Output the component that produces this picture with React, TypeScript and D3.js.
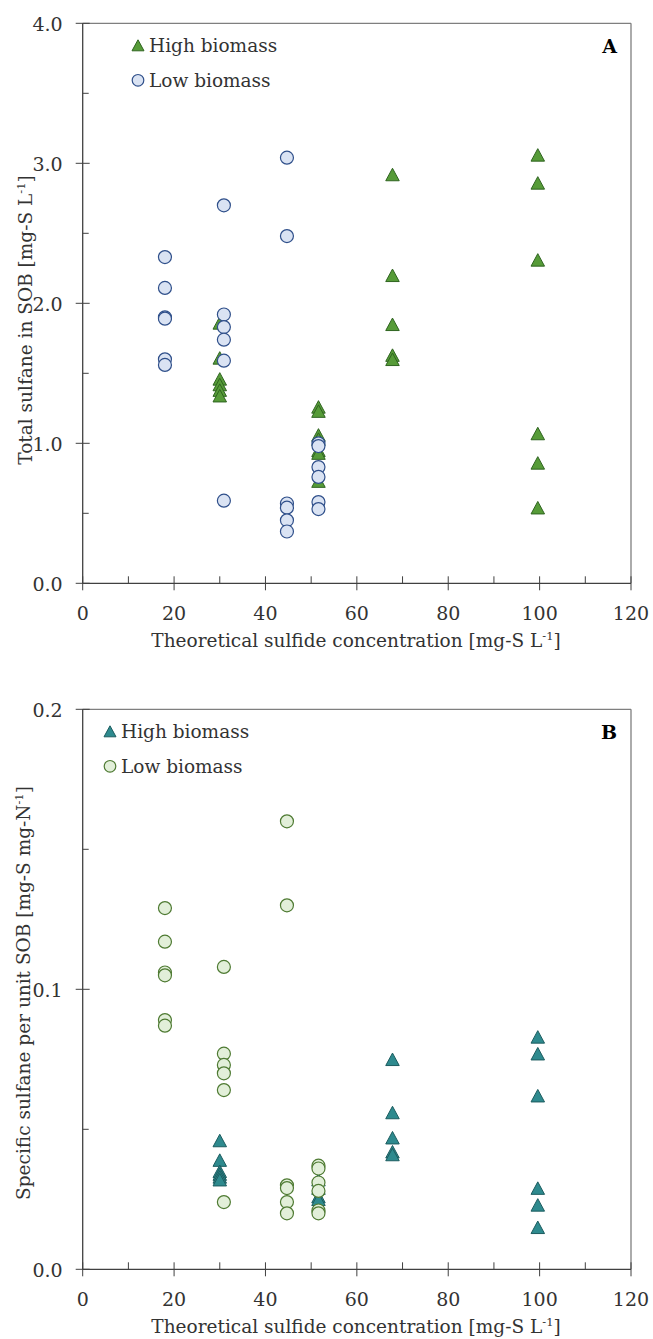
import React from "react";
import * as d3 from "d3";

// ---------- DATA ----------
const xTicks = [0, 20, 40, 60, 80, 100, 120];
const xMinorTicks = [10, 30, 50, 70, 90, 110];

const aYTicks = [0, 1, 2, 3, 4];
const aYMinor = [0.5, 1.5, 2.5, 3.5];
const bYTicks = [0, 0.1, 0.2];
const bYMinor = [0.05, 0.15];

// Panel A – High biomass (triangles)
const aHighX = [30, 30, 30, 30, 30, 30, 51.6, 51.6, 51.6, 51.6, 51.6, 51.6, 51.6, 67.8, 67.8, 67.8, 67.8, 67.8, 99.6, 99.6, 99.6, 99.6, 99.6, 99.6];
const aHighY = [1.86, 1.61, 1.46, 1.42, 1.38, 1.34, 1.26, 1.23, 1.06, 1.03, 0.95, 0.93, 0.73, 2.92, 2.2, 1.85, 1.63, 1.6, 3.06, 2.86, 2.31, 1.07, 0.86, 0.54];
// Panel A – Low biomass (circles)
const aLowX = [18, 18, 18, 18, 18, 18, 30.9, 30.9, 30.9, 30.9, 30.9, 30.9, 44.7, 44.7, 44.7, 44.7, 44.7, 44.7, 51.6, 51.6, 51.6, 51.6, 51.6, 51.6];
const aLowY = [2.33, 2.11, 1.9, 1.89, 1.6, 1.56, 2.7, 1.92, 1.83, 1.74, 1.59, 0.59, 3.04, 2.48, 0.57, 0.54, 0.45, 0.37, 1.0, 0.98, 0.83, 0.76, 0.58, 0.53];

// Panel B – High biomass (triangles)
const bHighX = [30, 30, 30, 30, 30, 30, 51.6, 51.6, 51.6, 51.6, 67.8, 67.8, 67.8, 67.8, 67.8, 99.6, 99.6, 99.6, 99.6, 99.6, 99.6];
const bHighY = [0.046, 0.039, 0.035, 0.034, 0.033, 0.032, 0.032, 0.029, 0.026, 0.025, 0.075, 0.056, 0.047, 0.042, 0.041, 0.083, 0.077, 0.062, 0.029, 0.023, 0.015];
// Panel B – Low biomass (circles)
const bLowX = [18, 18, 18, 18, 18, 18, 30.9, 30.9, 30.9, 30.9, 30.9, 30.9, 44.7, 44.7, 44.7, 44.7, 44.7, 44.7, 51.6, 51.6, 51.6, 51.6, 51.6, 51.6];
const bLowY = [0.129, 0.117, 0.106, 0.105, 0.089, 0.087, 0.108, 0.077, 0.073, 0.07, 0.064, 0.024, 0.16, 0.13, 0.03, 0.029, 0.024, 0.02, 0.037, 0.036, 0.031, 0.028, 0.021, 0.02];

const legendLabels = ["High biomass", "Low biomass"];

// ---------- STYLE ----------
const FONT = "'DejaVu Serif', 'Liberation Serif', serif";
const TEXT = "#333333";
const AXIS = "#404040";
const FRAME = "#7f7f7f";
const FS = 18.5;

type PanelProps = {
  top: number;
  bottom: number;
  yMax: number;
  yTicks: number[];
  yMinor: number[];
  yFmt: (v: number) => string;
  highX: number[];
  highY: number[];
  lowX: number[];
  lowY: number[];
  triFill: string;
  triStroke: string;
  cirFill: string;
  cirStroke: string;
  yLabel: React.ReactNode;
  yLabelCenter: number;
  yLabelX: number;
  letter: string;
  legendX: number;
};

const LEFT = 82.7;
const RIGHT = 631;

function triPath(cx: number, cy: number, w = 13.5, h = 12.5) {
  return `M${cx},${cy - h / 2}L${cx + w / 2},${cy + h / 2}L${cx - w / 2},${cy + h / 2}Z`;
}

function Panel(p: PanelProps) {
  const x = d3.scaleLinear().domain([0, 120]).range([LEFT, RIGHT]);
  const y = d3.scaleLinear().domain([0, p.yMax]).range([p.bottom, p.top]);
  return (
    <g>
      {/* frame */}
      <line x1={LEFT} x2={RIGHT} y1={p.top} y2={p.top} stroke={FRAME} strokeWidth={1.3} />
      <line x1={RIGHT} x2={RIGHT} y1={p.top} y2={p.bottom} stroke={FRAME} strokeWidth={1.3} />
      <line x1={LEFT} x2={LEFT} y1={p.top} y2={p.bottom} stroke={AXIS} strokeWidth={1.3} />
      <line x1={LEFT} x2={RIGHT} y1={p.bottom} y2={p.bottom} stroke={AXIS} strokeWidth={1.3} />
      {/* y ticks */}
      {p.yTicks.map((t) => (
        <g key={"yt" + t}>
          <line x1={LEFT - 7} x2={LEFT + 7} y1={y(t)} y2={y(t)} stroke={AXIS} strokeWidth={1} />
          <text x={LEFT - 20} y={y(t) + 7.5} textAnchor="end" fontSize={19} fill={TEXT} fontFamily={FONT}>
            {p.yFmt(t)}
          </text>
        </g>
      ))}
      {p.yMinor.map((t) => (
        <line key={"ym" + t} x1={LEFT} x2={LEFT + 6} y1={y(t)} y2={y(t)} stroke={AXIS} strokeWidth={1} />
      ))}
      {/* x ticks */}
      {xTicks.map((t) => (
        <g key={"xt" + t}>
          <line x1={x(t)} x2={x(t)} y1={p.bottom - 7} y2={p.bottom + 7} stroke={AXIS} strokeWidth={1} />
          <text x={x(t)} y={p.bottom + 37} textAnchor="middle" fontSize={19} fill={TEXT} fontFamily={FONT}>
            {t}
          </text>
        </g>
      ))}
      {xMinorTicks.map((t) => (
        <line key={"xm" + t} x1={x(t)} x2={x(t)} y1={p.bottom - 7} y2={p.bottom} stroke={AXIS} strokeWidth={1} />
      ))}
      {/* axis titles */}
      <text x={356} y={p.bottom + 64} textAnchor="middle" fontSize={FS} fill={TEXT} fontFamily={FONT}>
        Theoretical sulfide concentration [mg-S L<tspan dy={-7} fontSize={11.5}>-1</tspan>
        <tspan dy={7}>]</tspan>
      </text>
      <text
        transform={`translate(${p.yLabelX},${p.yLabelCenter}) rotate(-90)`}
        textAnchor="middle"
        fontSize={FS}
        fill={TEXT}
        fontFamily={FONT}
      >
        {p.yLabel}
      </text>
      {/* data: high (triangles) then low (circles) */}
      {p.highX.map((v, i) => (
        <path key={"h" + i} d={triPath(x(v), y(p.highY[i]))} fill={p.triFill} stroke={p.triStroke} strokeWidth={1} />
      ))}
      {p.lowX.map((v, i) => (
        <circle key={"l" + i} cx={x(v)} cy={y(p.lowY[i])} r={6.5} fill={p.cirFill} stroke={p.cirStroke} strokeWidth={1.2} />
      ))}
      {/* legend */}
      <path d={triPath(p.legendX, p.top + 22, 12, 11)} fill={p.triFill} stroke={p.triStroke} strokeWidth={1} />
      <text x={p.legendX + 11} y={p.top + 29} fontSize={FS} fill={TEXT} fontFamily={FONT}>
        {legendLabels[0]}
      </text>
      <circle cx={p.legendX} cy={p.top + 57} r={5.8} fill={p.cirFill} stroke={p.cirStroke} strokeWidth={1.2} />
      <text x={p.legendX + 11} y={p.top + 64} fontSize={FS} fill={TEXT} fontFamily={FONT}>
        {legendLabels[1]}
      </text>
      <text x={RIGHT - 14} y={p.top + 30} textAnchor="end" fontSize={19} fontWeight="bold" fill="#000" fontFamily={FONT}>
        {p.letter}
      </text>
    </g>
  );
}

export default function App() {
  return (
    <div style={{ position: "absolute", left: 0, top: 0, width: 653, height: 1339, background: "#fff" }}>
      <svg width={653} height={1339} style={{ display: "block" }}>
        <rect width={653} height={1339} fill="#fff" />
        <Panel
          top={23.3}
          bottom={583.3}
          yMax={4}
          yTicks={aYTicks}
          yMinor={aYMinor}
          yFmt={(v) => d3.format(".1f")(v)}
          highX={aHighX}
          highY={aHighY}
          lowX={aLowX}
          lowY={aLowY}
          triFill="#569b38"
          triStroke="#2f6420"
          cirFill="#dae3f3"
          cirStroke="#2f4f8a"
          yLabel={
            <>
              Total sulfane in SOB [mg-S L<tspan dy={-7} fontSize={11.5}>-1</tspan>
              <tspan dy={7}>]</tspan>
            </>
          }
          yLabelCenter={320}
          yLabelX={32}
          letter="A"
          legendX={138}
        />
        <Panel
          top={709.3}
          bottom={1269.3}
          yMax={0.2}
          yTicks={bYTicks}
          yMinor={bYMinor}
          yFmt={(v) => d3.format(".1f")(v)}
          highX={bHighX}
          highY={bHighY}
          lowX={bLowX}
          lowY={bLowY}
          triFill="#2e8a8e"
          triStroke="#1c5c5f"
          cirFill="#e2efd9"
          cirStroke="#4e7a32"
          yLabel={
            <>
              Specific sulfane per unit SOB [mg-S mg-N<tspan dy={-7} fontSize={11.5}>-1</tspan>
              <tspan dy={7}>]</tspan>
            </>
          }
          yLabelCenter={993}
          yLabelX={30}
          letter="B"
          legendX={110}
        />
      </svg>
    </div>
  );
}
